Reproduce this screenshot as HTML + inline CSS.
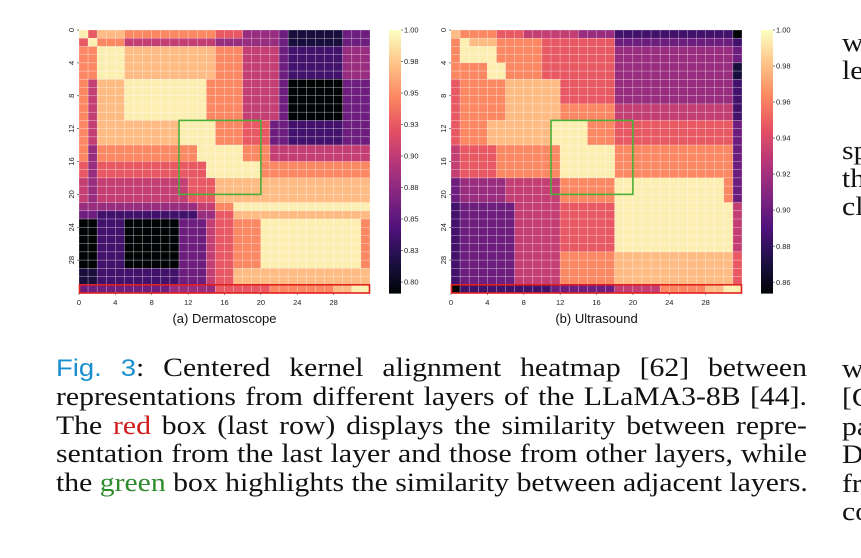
<!DOCTYPE html>
<html><head><meta charset="utf-8">
<style>
html,body{margin:0;padding:0;background:#fff;}
body{width:861px;height:558px;position:relative;overflow:hidden;}
svg{position:absolute;left:0;top:0;}
.cap{position:absolute;left:56px;width:657px;font-family:"Liberation Serif",serif;font-size:26px;line-height:28.7px;color:#111;text-align:justify;text-align-last:justify;white-space:nowrap;transform:scaleX(1.143);transform-origin:0 0;}
.side{position:absolute;left:842px;font-family:"Liberation Serif",serif;font-size:26px;color:#111;white-space:nowrap;transform:scaleX(1.143);transform-origin:0 0;}
</style></head>
<body>
<svg id="fig" width="861" height="558"></svg>
<div class="cap" style="top:354px"><span style="color:#1a8fd0;font-family:'Liberation Sans',sans-serif;font-size:24px">Fig. 3</span>: Centered kernel alignment heatmap [62] between</div>
<div class="cap" style="top:383px">representations from different layers of the LLaMA3-8B [44].</div>
<div class="cap" style="top:412px">The <span style="color:#d01c1c">red</span> box (last row) displays the similarity between repre-</div>
<div class="cap" style="top:440px">sentation from the last layer and those from other layers, while</div>
<div class="cap" style="top:469px">the <span style="color:#2e8b2e">green</span> box highlights the similarity between adjacent layers.</div>
<div class="side" style="top:28px">w</div>
<div class="side" style="top:56px">le</div>
<div class="side" style="top:136px">sp</div>
<div class="side" style="top:164px">th</div>
<div class="side" style="top:192px">cl</div>
<div class="side" style="top:354px">w</div>
<div class="side" style="top:383px">[C</div>
<div class="side" style="top:412px">pa</div>
<div class="side" style="top:440px">D</div>
<div class="side" style="top:469px">fr</div>
<div class="side" style="top:497px">co</div>
<script>
// Level digits 0..9 per cell (row strings), mapped onto colorbar range
const dermRows = [
"96888777777777766644443111111333",
"69777555555555544444443111111333",
"77999888888888877755553222222444",
"77999888888888877755553222222444",
"77999888888888877755553222222444",
"77999888888888877755553222222444",
"75888999999999777755553000000333",
"75888999999999777755553000000333",
"75888999999999777755553000000333",
"75888999999999777755553000000333",
"75888999999999777755553000000333",
"75888888888999977766633222222333",
"75888888888999977766633222222333",
"75888888888999977766633222222333",
"74777777777779999977755555555555",
"74777777777779999977755555555555",
"64666666666666999999777777777777",
"64666666666666999999777777777777",
"54555555555566688888888888888888",
"54555555555566688888888888888888",
"54555555555566688888888888888888",
"44444444444445577999999999999999",
"33222222222224466888888888888888",
"00222000000333566777999999999997",
"00222000000333566777999999999997",
"00222000000333566777999999999997",
"00222000000333566777999999999997",
"00222000000333566777999999999997",
"00222000000333566777999999999997",
"11222222222333566888888888888888",
"11222222222333566888888888888888",
"33333333334444466666677777778899"];
const ultraRows = [
"87777666555555444422222222222220",
"79888777776666666633333333333332",
"79999777776666666644444444444443",
"79999777776666666644444444444443",
"77779977776666666644444444444441",
"77779977776666666644444444444441",
"67777788888866666644444444444442",
"67777788888866666644444444444442",
"67777788888866666644444444444442",
"67777788888877777755555555555552",
"67777788888877777755555555555552",
"67778888888999977766666666666663",
"67778888888999977766666666666663",
"67778888888999977766666666666663",
"56666777777799999977777777777773",
"56666777777799999977777777777773",
"56666777777799999977777777777773",
"56666777777799999977777777777773",
"34444455555577777799999999999973",
"34444455555577777799999999999973",
"34444455555577777799999999999973",
"23333335555566666699999999999995",
"23333335555566666699999999999995",
"23333335555566666699999999999995",
"23333335555566666699999999999995",
"23333335555566666699999999999995",
"23333335555566666699999999999995",
"23333335555577777788888888888886",
"23333335555577777788888888888886",
"23333335555577777788888888888886",
"23333335555577777788888888888886",
"02222222222333333355555777778899"];
const xTicks = [0,4,8,12,16,20,24,28];
const dermCbTicks = ["1.00","0.98","0.95","0.93","0.90","0.88","0.85","0.83","0.80"];
const dermCbVals = [1.0,0.975,0.95,0.925,0.90,0.875,0.85,0.825,0.80];
const ultraCbTicks = ["1.00","0.98","0.96","0.94","0.92","0.90","0.88","0.86"];
const ultraCbVals = [1.0,0.98,0.96,0.94,0.92,0.90,0.88,0.86];

const NS="http://www.w3.org/2000/svg";
const svg=document.getElementById('fig');
const magma=[[0,4,4],[28,16,68],[79,18,123],[129,37,129],[181,54,122],[229,80,100],[251,135,97],[254,194,135],[252,253,191]];
function cmap(t){t=Math.max(0,Math.min(1,t));const p=t*8,i=Math.min(7,Math.floor(p)),f=p-i;const a=magma[i],b=magma[i+1];
return `rgb(${a.map((v,k)=>Math.round(v+(b[k]-v)*f)).join(',')})`;}
function mk(tag,attrs,parent){const e=document.createElementNS(NS,tag);for(const k in attrs)e.setAttribute(k,attrs[k]);(parent||svg).appendChild(e);return e;}

function panel(rows,x0,cbX,vmin,vmax,cbLabels,cbVals,caption,prefix){
  const y0=30,W=291,H=263,n=32,cw=W/n,ch=H/n;
  const sx=c=>x0+c*cw, sy=r=>y0+r*ch;
  const g=mk('g',{});
  
  
  const lvlToVal=l=>vmin+(l/9.3)*(1.0-vmin);
  rows.forEach((row,r)=>{for(let c=0;c<n;c++){
    const v=lvlToVal(+row[c]);
    const rc=mk('rect',{x:sx(c),y:sy(r),width:cw,height:ch,fill:cmap((v-vmin)/(vmax-vmin)),stroke:'rgba(255,255,255,0.45)','stroke-width':0.5},g);
    
    
  }});
  xTicks.forEach(t=>{
    const tx=mk('text',{x:sx(t),y:305,'font-size':7.5,'text-anchor':'middle','font-family':'Liberation Sans, sans-serif',fill:'#222'});
    tx.textContent=t;
    
    
    mk('line',{x1:sx(t),x2:sx(t),y1:y0+H,y2:y0+H+2,stroke:'#333','stroke-width':0.6});
    const yy=sy(t);
    mk('line',{x1:x0-2,x2:x0,y1:yy,y2:yy,stroke:'#333','stroke-width':0.6});
    const ty=mk('text',{x:0,y:0,'font-size':7.5,'text-anchor':'middle','font-family':'Liberation Sans, sans-serif',fill:'#222',transform:`translate(${x0-5},${yy}) rotate(-90)`});
    ty.textContent=t;
    
    
  });
  const gb=mk('rect',{x:sx(11),y:sy(11),width:9*cw,height:9*ch,fill:'none',stroke:'#4caf3a','stroke-width':1.6});
  
  
  const rb=mk('rect',{x:sx(0)+0.5,y:sy(31),width:32*cw-1,height:ch,fill:'none',stroke:'#e02020','stroke-width':1.6});
  
  
  const cbTop=30,cbBot=293;
  const vy=v=>cbTop+(vmax-v)/(vmax-vmin)*(cbBot-cbTop);
  const cb=mk('g',{});
  
  
  for(let i=0;i<100;i++){
    const v0=vmax-(i/100)*(vmax-vmin);
    mk('rect',{x:cbX,y:cbTop+i*(cbBot-cbTop)/100,width:12,height:(cbBot-cbTop)/100+0.6,fill:cmap((v0-vmin)/(vmax-vmin))},cb);
  }
  cbLabels.forEach((lab,i)=>{
    const yy=vy(cbVals[i]);
    mk('line',{x1:cbX+12,x2:cbX+14,y1:yy,y2:yy,stroke:'#333','stroke-width':0.6},cb);
    const t=mk('text',{x:cbX+15,y:yy+2.6,'font-size':7.5,'font-family':'Liberation Sans, sans-serif',fill:'#222'},cb);
    t.textContent=lab;
    
    
  });
  const c=mk('text',{x:x0+W/2,y:323,'font-size':13,'text-anchor':'middle','font-family':'Liberation Sans, sans-serif',fill:'#111'});
  c.textContent=caption;
  
  
}
panel(dermRows,79,389,0.7913,1.0,dermCbTicks,dermCbVals,'(a) Dermatoscope','dermatoscope');
panel(ultraRows,451,761,0.854,1.0,ultraCbTicks,ultraCbVals,'(b) Ultrasound','ultrasound');
</script>
</body></html>
